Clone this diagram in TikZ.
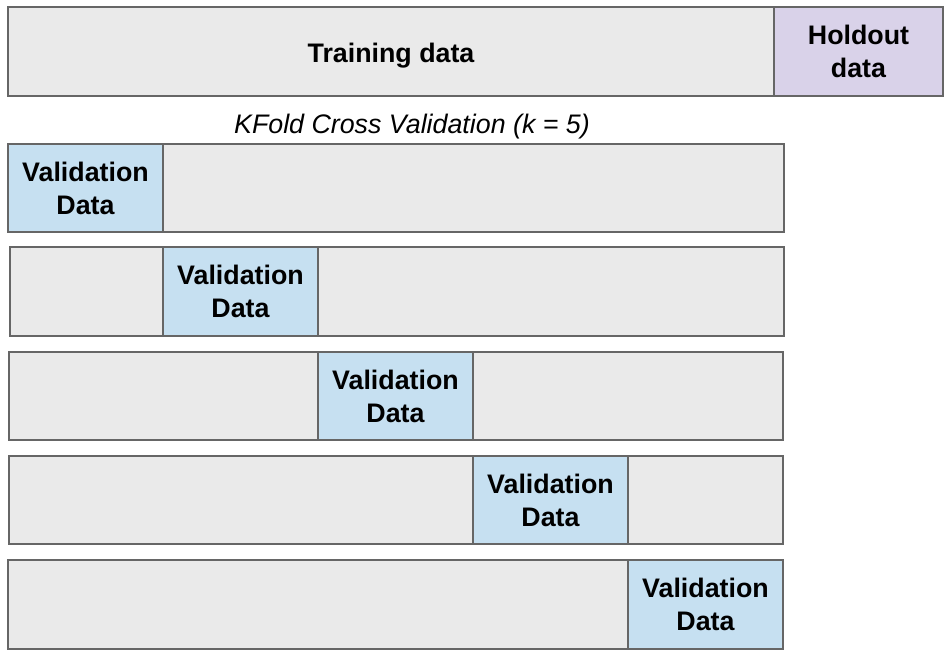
\documentclass[tikz,border=0pt]{standalone}
\usepackage{fontspec}
\setmainfont{Liberation Sans}
\definecolor{trgray}{HTML}{EAEAEA}
\definecolor{valblue}{HTML}{C6E0F1}
\definecolor{holdpurple}{HTML}{D9D2E9}
\definecolor{edgegray}{HTML}{666666}
\begin{document}
\begin{tikzpicture}[x=1pt,y=-1pt,
  seg/.style={draw=edgegray,line width=1.1pt,anchor=north west,inner sep=0pt,outer sep=0pt,
    align=center,font=\fontsize{26.8}{33}\selectfont\bfseries},
  trainseg/.style={seg,fill=trgray},
  valseg/.style={seg,fill=valblue},
  holdseg/.style={seg,fill=holdpurple}]
\useasboundingbox (0,0) rectangle (947,653);
% top bar
\node[trainseg,minimum width=766pt,minimum height=89pt,text depth=0pt] (train) at (8,7) {\raisebox{-3pt}{Training data}};
\node[holdseg,minimum width=169pt,minimum height=89pt] (hold) at (774,7) {Holdout\\data};
\node[font=\fontsize{26.8}{30}\selectfont\itshape] (title) at (412,127) {KFold Cross Validation (k = 5)};
% row 1
\node[trainseg,minimum width=776pt,minimum height=88pt] (r1) at (8,144) {};
\node[valseg,minimum width=155pt,minimum height=88pt] (v1) at (8,144) {Validation\\Data};
% row 2
\node[trainseg,minimum width=774pt,minimum height=89pt] (r2) at (10,247) {};
\node[valseg,minimum width=155pt,minimum height=89pt] (v2) at (163,247) {Validation\\Data};
% row 3
\node[trainseg,minimum width=774pt,minimum height=88pt] (r3) at (9,352) {};
\node[valseg,minimum width=155pt,minimum height=88pt] (v3) at (318,352) {Validation\\Data};
% row 4
\node[trainseg,minimum width=774pt,minimum height=88pt] (r4) at (9,456) {};
\node[valseg,minimum width=155pt,minimum height=88pt] (v4) at (473,456) {Validation\\Data};
% row 5
\node[trainseg,minimum width=775pt,minimum height=89pt] (r5) at (8,560) {};
\node[valseg,minimum width=155pt,minimum height=89pt] (v5) at (628,560) {Validation\\Data};
\end{tikzpicture}
\end{document}
